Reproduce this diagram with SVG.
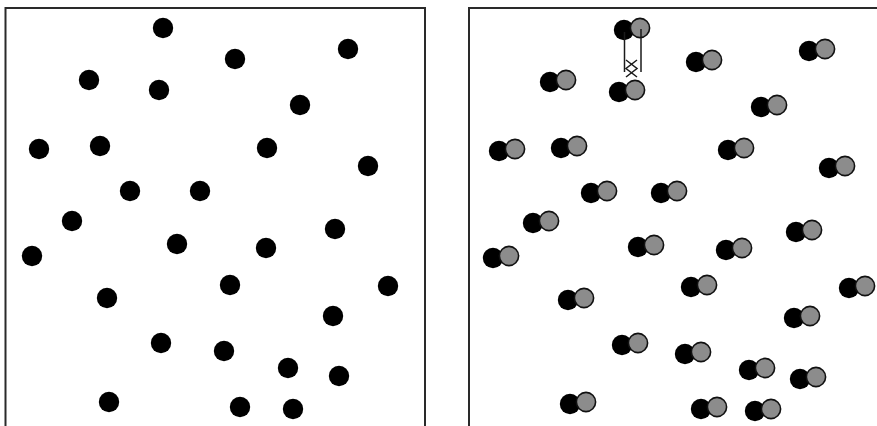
<svg xmlns="http://www.w3.org/2000/svg" xmlns:xlink="http://www.w3.org/1999/xlink" width="877" height="426" viewBox="0 0 877 426">
<style>
.frame{fill:none;stroke:#2a2a2a;stroke-width:2}
.dot{fill:#000}
.gray{fill:#8c8c8c;stroke:#111;stroke-width:1.6}
.strand{fill:none;stroke:#1a1a1a;stroke-width:1.5}
</style>
<defs>
<circle id="d" class="dot" r="10.2"/>
<g id="p">
<circle class="dot" cx="0" cy="0" r="10.2"/>
<circle class="gray" cx="16" cy="-2" r="9.6"/>
</g>
</defs>
<rect width="877" height="426" fill="#fff"/>
<g id="frames">
<polyline class="frame" points="5.5,430 5.5,8 425,8 425,430"/>
<polyline class="frame" points="469,430 469,8 880,8"/>
</g>
<g id="left-panel">
<g id="a1"><use xlink:href="#d" x="163" y="28"/></g>
<g id="a2"><use xlink:href="#d" x="235" y="59"/></g>
<g id="a3"><use xlink:href="#d" x="348" y="49"/></g>
<g id="a4"><use xlink:href="#d" x="89" y="80"/></g>
<g id="a5"><use xlink:href="#d" x="159" y="90"/></g>
<g id="a6"><use xlink:href="#d" x="300" y="105"/></g>
<g id="a7"><use xlink:href="#d" x="39" y="149"/></g>
<g id="a8"><use xlink:href="#d" x="100" y="146"/></g>
<g id="a9"><use xlink:href="#d" x="267" y="148"/></g>
<g id="a10"><use xlink:href="#d" x="368" y="166"/></g>
<g id="a11"><use xlink:href="#d" x="130" y="191"/></g>
<g id="a12"><use xlink:href="#d" x="200" y="191"/></g>
<g id="a13"><use xlink:href="#d" x="72" y="221"/></g>
<g id="a14"><use xlink:href="#d" x="32" y="256"/></g>
<g id="a15"><use xlink:href="#d" x="177" y="244"/></g>
<g id="a16"><use xlink:href="#d" x="266" y="248"/></g>
<g id="a17"><use xlink:href="#d" x="335" y="229"/></g>
<g id="a18"><use xlink:href="#d" x="107" y="298"/></g>
<g id="a19"><use xlink:href="#d" x="230" y="285"/></g>
<g id="a20"><use xlink:href="#d" x="388" y="286"/></g>
<g id="a21"><use xlink:href="#d" x="333" y="316"/></g>
<g id="a22"><use xlink:href="#d" x="161" y="343"/></g>
<g id="a23"><use xlink:href="#d" x="224" y="351"/></g>
<g id="a24"><use xlink:href="#d" x="288" y="368"/></g>
<g id="a25"><use xlink:href="#d" x="339" y="376"/></g>
<g id="a26"><use xlink:href="#d" x="109" y="402"/></g>
<g id="a27"><use xlink:href="#d" x="240" y="407"/></g>
<g id="a28"><use xlink:href="#d" x="293" y="409"/></g>
</g>
<g id="right-panel">
<g id="b1"><use xlink:href="#p" x="624" y="30"/></g>
<g id="b2"><use xlink:href="#p" x="696" y="62"/></g>
<g id="b3"><use xlink:href="#p" x="809" y="51"/></g>
<g id="b4"><use xlink:href="#p" x="550" y="82"/></g>
<g id="b5"><use xlink:href="#p" x="619" y="92"/></g>
<g id="b6"><use xlink:href="#p" x="761" y="107"/></g>
<g id="b7"><use xlink:href="#p" x="499" y="151"/></g>
<g id="b8"><use xlink:href="#p" x="561" y="148"/></g>
<g id="b9"><use xlink:href="#p" x="728" y="150"/></g>
<g id="b10"><use xlink:href="#p" x="829" y="168"/></g>
<g id="b11"><use xlink:href="#p" x="591" y="193"/></g>
<g id="b12"><use xlink:href="#p" x="661" y="193"/></g>
<g id="b13"><use xlink:href="#p" x="533" y="223"/></g>
<g id="b14"><use xlink:href="#p" x="493" y="258"/></g>
<g id="b15"><use xlink:href="#p" x="638" y="247"/></g>
<g id="b16"><use xlink:href="#p" x="726" y="250"/></g>
<g id="b17"><use xlink:href="#p" x="796" y="232"/></g>
<g id="b18"><use xlink:href="#p" x="568" y="300"/></g>
<g id="b19"><use xlink:href="#p" x="691" y="287"/></g>
<g id="b20"><use xlink:href="#p" x="849" y="288"/></g>
<g id="b21"><use xlink:href="#p" x="794" y="318"/></g>
<g id="b22"><use xlink:href="#p" x="622" y="345"/></g>
<g id="b23"><use xlink:href="#p" x="685" y="354"/></g>
<g id="b24"><use xlink:href="#p" x="749" y="370"/></g>
<g id="b25"><use xlink:href="#p" x="800" y="379"/></g>
<g id="b26"><use xlink:href="#p" x="570" y="404"/></g>
<g id="b27"><use xlink:href="#p" x="701" y="409"/></g>
<g id="b28"><use xlink:href="#p" x="755" y="411"/></g>
</g>
<g id="connectors">
<line class="strand" x1="624.5" y1="32" x2="624.5" y2="72"/>
<line class="strand" x1="641" y1="29" x2="641" y2="72"/>
<polyline class="strand" points="626,60 637,68.5 626,77"/>
<polyline class="strand" points="637,60 626,68.5 637,77"/>
</g>
</svg>
